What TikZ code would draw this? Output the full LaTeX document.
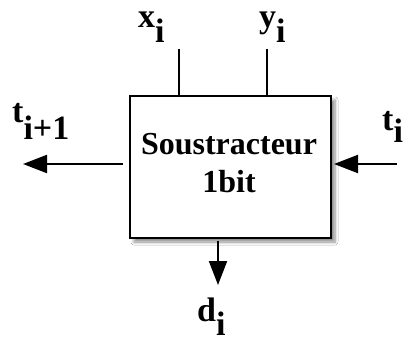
\documentclass[tikz,border=0pt]{standalone}
\usepackage{fontspec}
\setmainfont{Liberation Serif}
\usetikzlibrary{arrows.meta,shadows.blur}
\begin{document}
\begin{tikzpicture}[x=1pt,y=-1pt,
  lbl/.style={anchor=base west, inner sep=0pt, font=\fontsize{34}{34}\selectfont\bfseries},
  wire/.style={line width=2pt},
  arr/.style={line width=2pt, -{Triangle[length=24pt,width=18pt]}},
  blk/.style={draw, line width=2.5pt, fill=white, minimum width=201pt, minimum height=142pt,
    inner sep=0pt, outer sep=0pt,
    blur shadow={shadow xshift=4pt, shadow yshift=-4pt, shadow blur steps=6, shadow blur radius=3pt, shadow opacity=45}},
  btxt/.style={inner sep=0pt, align=center, font=\fontsize{32}{38}\selectfont\bfseries}]
\useasboundingbox[fill=white] (0,0) rectangle (403,342);
\node[blk] (box) at (230.5,167) {};
\node[btxt] (txt) at (229,163) {Soustracteur\\1bit};
\coordinate (xt) at (179,49);
\coordinate (yt) at (267,49);
\coordinate (tl) at (23,164);
\coordinate (tr) at (397,164);
\coordinate (db) at (218,285);
\draw[wire] (xt) -- (xt |- box.north);
\draw[wire] (yt) -- (yt |- box.north);
\draw[arr, shorten <=7pt] (box.west |- tl) -- (tl);
\draw[arr, shorten >=3pt] (tr) -- (box.east |- tr);
\draw[arr, shorten <=3pt] (box.south -| db) -- (db);
\node[lbl] (lx) at (138,28) {x\raisebox{-15pt}{i}};
\node[lbl] (ly) at (259,28) {y\raisebox{-15pt}{i}};
\node[lbl] (lto) at (12,122) {t\raisebox{-17pt}{i+1}};
\node[lbl] (lti) at (382,130) {t\raisebox{-12pt}{i}};
\node[lbl] (ld) at (197,321) {d\raisebox{-14pt}{i}};
\end{tikzpicture}
\end{document}
